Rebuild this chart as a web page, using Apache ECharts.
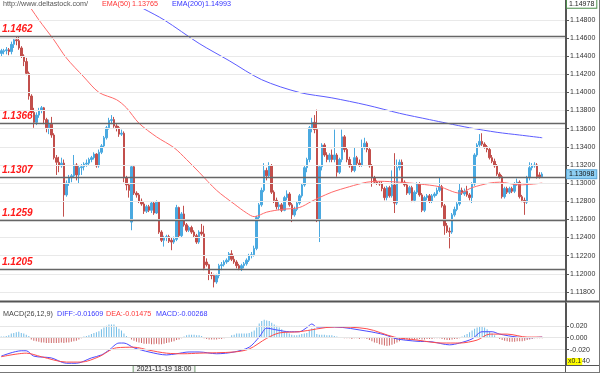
<!DOCTYPE html>
<html><head><meta charset="utf-8">
<script src="https://cdn.jsdelivr.net/npm/echarts@6/dist/echarts.min.js"></script>
<style>html,body{margin:0;padding:0;background:#fff}#c{width:600px;height:373px}</style>
</head><body><div id="c"></div><script>
const opens = [
1.1443,1.1445,1.1446,1.1447,1.1445,1.1453,1.1458,1.1457,1.1449,1.1440,
1.1434,1.1421,1.1396,1.1378,1.1367,1.1375,1.1380,1.1383,1.1370,1.1361,
1.1365,1.1353,1.1328,1.1323,1.1319,1.1322,1.1287,1.1300,1.1306,1.1308,
1.1320,1.1309,1.1317,1.1318,1.1321,1.1322,1.1326,1.1328,1.1332,1.1319,
1.1334,1.1341,1.1350,1.1361,1.1369,1.1370,1.1363,1.1361,1.1354,1.1355,
1.1306,1.1298,1.1257,1.1318,1.1289,1.1287,1.1280,1.1277,1.1269,1.1274,
1.1270,1.1278,1.1267,1.1279,1.1246,1.1237,1.1240,1.1241,1.1237,1.1235,
1.1238,1.1273,1.1242,1.1266,1.1254,1.1248,1.1251,1.1246,1.1242,1.1235,
1.1246,1.1244,1.1213,1.1210,1.1199,1.1198,1.1191,1.1198,1.1209,1.1210,
1.1213,1.1215,1.1222,1.1216,1.1213,1.1209,1.1206,1.1209,1.1211,1.1215,
1.1220,1.1221,1.1228,1.1262,1.1276,1.1292,1.1314,1.1308,1.1319,1.1290,
1.1281,1.1274,1.1276,1.1270,1.1284,1.1288,1.1276,1.1265,1.1271,1.1278,
1.1286,1.1298,1.1317,1.1326,1.1361,1.1367,1.1359,1.1259,1.1318,1.1342,
1.1331,1.1326,1.1331,1.1326,1.1331,1.1312,1.1326,1.1351,1.1337,1.1326,
1.1319,1.1314,1.1328,1.1322,1.1320,1.1339,1.1344,1.1337,1.1319,1.1306,
1.1301,1.1300,1.1299,1.1294,1.1284,1.1295,1.1286,1.1298,1.1278,1.1317,
1.1323,1.1301,1.1298,1.1289,1.1295,1.1281,1.1290,1.1299,1.1287,1.1270,
1.1284,1.1286,1.1280,1.1286,1.1288,1.1292,1.1296,1.1275,1.1253,1.1247,
1.1246,1.1265,1.1271,1.1277,1.1292,1.1288,1.1291,1.1287,1.1284,1.1299,
1.1331,1.1342,1.1346,1.1343,1.1340,1.1337,1.1328,1.1324,1.1319,1.1310,
1.1307,1.1285,1.1294,1.1290,1.1294,1.1291,1.1299,1.1301,1.1285,1.1281,
1.1279,1.1306,1.1317,1.1319,1.1320,1.1309,1.1307];
const closes = [
1.1446,1.1446,1.1447,1.1445,1.1453,1.1458,1.1457,1.1449,1.1440,1.1434,
1.1421,1.1396,1.1378,1.1367,1.1375,1.1380,1.1383,1.1370,1.1361,1.1365,
1.1353,1.1328,1.1323,1.1319,1.1322,1.1287,1.1300,1.1306,1.1308,1.1320,
1.1309,1.1317,1.1318,1.1321,1.1322,1.1326,1.1328,1.1332,1.1319,1.1334,
1.1341,1.1350,1.1361,1.1369,1.1370,1.1363,1.1361,1.1354,1.1355,1.1306,
1.1298,1.1292,1.1318,1.1289,1.1287,1.1280,1.1277,1.1269,1.1274,1.1270,
1.1278,1.1267,1.1279,1.1246,1.1237,1.1240,1.1241,1.1236,1.1235,1.1238,
1.1273,1.1242,1.1266,1.1254,1.1248,1.1251,1.1246,1.1242,1.1235,1.1246,
1.1244,1.1206,1.1210,1.1199,1.1198,1.1191,1.1198,1.1209,1.1210,1.1213,
1.1215,1.1222,1.1216,1.1213,1.1209,1.1206,1.1209,1.1211,1.1215,1.1220,
1.1221,1.1228,1.1262,1.1276,1.1292,1.1314,1.1308,1.1319,1.1290,1.1281,
1.1274,1.1276,1.1270,1.1284,1.1288,1.1276,1.1265,1.1271,1.1278,1.1286,
1.1298,1.1317,1.1326,1.1361,1.1367,1.1359,1.1259,1.1318,1.1342,1.1331,
1.1326,1.1331,1.1326,1.1331,1.1312,1.1326,1.1351,1.1337,1.1326,1.1319,
1.1314,1.1328,1.1322,1.1320,1.1339,1.1344,1.1337,1.1319,1.1306,1.1301,
1.1300,1.1299,1.1294,1.1284,1.1295,1.1286,1.1298,1.1278,1.1317,1.1323,
1.1301,1.1298,1.1289,1.1295,1.1281,1.1290,1.1299,1.1287,1.1270,1.1284,
1.1286,1.1280,1.1286,1.1288,1.1292,1.1296,1.1275,1.1253,1.1247,1.1246,
1.1265,1.1271,1.1277,1.1292,1.1289,1.1291,1.1287,1.1284,1.1299,1.1331,
1.1342,1.1346,1.1343,1.1340,1.1337,1.1328,1.1324,1.1319,1.1310,1.1307,
1.1285,1.1294,1.1290,1.1294,1.1291,1.1299,1.1301,1.1285,1.1281,1.1279,
1.1306,1.1317,1.1319,1.1320,1.1307,1.1307,1.1310];
const lows = [
1.1440,1.1442,1.1442,1.1441,1.1442,1.1449,1.1452,1.1447,1.1438,1.1429,
1.1419,1.1392,1.1376,1.1361,1.1364,1.1372,1.1377,1.1365,1.1356,1.1354,
1.1350,1.1326,1.1309,1.1312,1.1317,1.1263,1.1285,1.1297,1.1301,1.1306,
1.1303,1.1300,1.1309,1.1314,1.1318,1.1320,1.1323,1.1326,1.1317,1.1317,
1.1332,1.1339,1.1348,1.1359,1.1365,1.1361,1.1357,1.1351,1.1352,1.1301,
1.1292,1.1284,1.1248,1.1287,1.1284,1.1278,1.1275,1.1266,1.1267,1.1268,
1.1267,1.1265,1.1266,1.1244,1.1235,1.1230,1.1236,1.1234,1.1226,1.1233,
1.1236,1.1240,1.1240,1.1252,1.1246,1.1246,1.1244,1.1240,1.1233,1.1233,
1.1242,1.1204,1.1208,1.1193,1.1194,1.1185,1.1189,1.1195,1.1204,1.1208,
1.1211,1.1213,1.1214,1.1211,1.1206,1.1204,1.1203,1.1206,1.1209,1.1213,
1.1217,1.1219,1.1226,1.1259,1.1274,1.1290,1.1303,1.1306,1.1288,1.1278,
1.1271,1.1270,1.1268,1.1269,1.1281,1.1274,1.1257,1.1263,1.1269,1.1276,
1.1284,1.1296,1.1312,1.1323,1.1356,1.1355,1.1257,1.1235,1.1314,1.1329,
1.1323,1.1323,1.1323,1.1323,1.1307,1.1310,1.1323,1.1334,1.1323,1.1317,
1.1312,1.1312,1.1320,1.1318,1.1318,1.1337,1.1334,1.1317,1.1296,1.1299,
1.1298,1.1297,1.1291,1.1281,1.1281,1.1284,1.1284,1.1267,1.1276,1.1314,
1.1299,1.1296,1.1287,1.1287,1.1279,1.1279,1.1288,1.1285,1.1268,1.1268,
1.1281,1.1278,1.1278,1.1284,1.1286,1.1290,1.1273,1.1243,1.1245,1.1228,
1.1244,1.1263,1.1269,1.1275,1.1287,1.1286,1.1285,1.1281,1.1278,1.1297,
1.1329,1.1340,1.1341,1.1338,1.1334,1.1326,1.1322,1.1317,1.1308,1.1305,
1.1283,1.1283,1.1288,1.1288,1.1289,1.1289,1.1297,1.1283,1.1279,1.1265,
1.1277,1.1303,1.1314,1.1317,1.1305,1.1305,1.1306];
const highs = [
1.1448,1.1448,1.1450,1.1449,1.1456,1.1460,1.1461,1.1462,1.1451,1.1442,
1.1438,1.1423,1.1398,1.1383,1.1378,1.1383,1.1385,1.1384,1.1372,1.1370,
1.1373,1.1355,1.1331,1.1329,1.1328,1.1326,1.1303,1.1309,1.1310,1.1331,
1.1322,1.1320,1.1321,1.1323,1.1326,1.1328,1.1330,1.1334,1.1333,1.1337,
1.1343,1.1352,1.1363,1.1372,1.1375,1.1373,1.1365,1.1363,1.1359,1.1357,
1.1308,1.1300,1.1320,1.1320,1.1291,1.1289,1.1283,1.1279,1.1276,1.1276,
1.1280,1.1280,1.1281,1.1280,1.1248,1.1242,1.1243,1.1243,1.1240,1.1241,
1.1276,1.1274,1.1268,1.1275,1.1256,1.1253,1.1253,1.1248,1.1244,1.1248,
1.1255,1.1253,1.1217,1.1211,1.1202,1.1200,1.1200,1.1211,1.1213,1.1215,
1.1217,1.1224,1.1226,1.1220,1.1215,1.1211,1.1211,1.1213,1.1217,1.1222,
1.1224,1.1231,1.1264,1.1278,1.1295,1.1322,1.1317,1.1323,1.1321,1.1292,
1.1284,1.1279,1.1278,1.1286,1.1292,1.1290,1.1278,1.1274,1.1280,1.1288,
1.1300,1.1319,1.1328,1.1363,1.1372,1.1375,1.1381,1.1320,1.1344,1.1344,
1.1334,1.1333,1.1337,1.1359,1.1333,1.1328,1.1359,1.1353,1.1339,1.1329,
1.1321,1.1339,1.1330,1.1326,1.1348,1.1350,1.1346,1.1339,1.1321,1.1308,
1.1303,1.1302,1.1302,1.1296,1.1297,1.1297,1.1314,1.1333,1.1326,1.1326,
1.1326,1.1303,1.1300,1.1297,1.1297,1.1292,1.1301,1.1301,1.1289,1.1286,
1.1288,1.1288,1.1288,1.1290,1.1295,1.1306,1.1298,1.1277,1.1256,1.1251,
1.1267,1.1274,1.1279,1.1300,1.1295,1.1294,1.1297,1.1289,1.1301,1.1333,
1.1344,1.1354,1.1355,1.1345,1.1342,1.1339,1.1331,1.1327,1.1321,1.1312,
1.1309,1.1296,1.1296,1.1296,1.1296,1.1301,1.1305,1.1303,1.1287,1.1284,
1.1308,1.1323,1.1322,1.1323,1.1322,1.1312,1.1312];

// EMA readings [candle index, price]
const ema50 = [[9,1.1502],[12,1.1492],[15,1.1480],[21,1.1458],[26,1.1438],[33,1.1417],[39,1.1400],[46,1.1392],[50,1.1383],[55,1.1366],[62,1.1351],[69,1.1339],[74,1.1326],[79,1.1312],[86,1.1292],[93,1.1277],[98,1.1267],[101,1.1263],[106,1.1268],[112,1.1271],[119,1.1273],[124,1.1280],[127,1.1284],[132,1.1290],[139,1.1296],[146,1.1301],[151,1.1302],[159,1.1301],[167,1.1299],[175,1.1296],[183,1.1289],[188,1.1295],[195,1.1300],[199,1.1301],[207,1.1298],[216,1.1300]];
const ema200 = [[50,1.1502],[57,1.1492],[65,1.1480],[79,1.1454],[91,1.1435],[104,1.1414],[119,1.1400],[132,1.1394],[146,1.1386],[159,1.1377],[171,1.1370],[178,1.1366],[187,1.1361],[198,1.1356],[207,1.1353],[216,1.1350]];

const macdHist = [
0.002,0.002,0.003,0.004,0.007,0.008,0.009,0.010,0.008,0.007,
0.005,0.003,-0.003,-0.005,-0.006,-0.007,-0.008,-0.008,-0.009,-0.009,
-0.009,-0.009,-0.009,-0.009,-0.008,-0.009,-0.008,-0.008,-0.007,-0.006,
-0.005,-0.003,-0.001,0.002,0.003,0.004,0.006,0.008,0.009,0.011,
0.014,0.017,0.020,0.022,0.022,0.022,0.018,0.015,0.012,0.007,
0.003,0.001,-0.003,-0.005,-0.007,-0.008,-0.009,-0.010,-0.010,-0.010,
-0.011,-0.011,-0.010,-0.011,-0.011,-0.010,-0.009,-0.008,-0.007,-0.006,
-0.004,-0.003,-0.001,0.002,0.004,0.005,0.005,0.005,0.004,0.004,
0.003,-0.001,-0.002,-0.003,-0.003,-0.003,-0.003,-0.002,-0.002,-0.001,
0.001,0.001,0.004,0.005,0.007,0.007,0.007,0.007,0.007,0.008,
0.010,0.012,0.017,0.024,0.028,0.030,0.029,0.028,0.025,0.022,
0.020,0.017,0.014,0.011,0.009,0.007,0.005,0.004,0.004,0.005,
0.006,0.007,0.008,0.012,0.016,0.016,0.006,0.005,0.005,0.005,
0.004,0.004,0.004,0.003,0.002,0.001,0.001,-0.001,-0.001,-0.001,
-0.002,-0.001,-0.001,-0.002,-0.001,-0.001,-0.002,-0.004,-0.006,-0.008,
-0.009,-0.011,-0.012,-0.013,-0.014,-0.013,-0.012,-0.010,-0.008,-0.006,
-0.004,-0.003,-0.003,-0.004,-0.003,-0.003,-0.003,-0.002,-0.003,-0.003,
-0.002,-0.002,-0.002,-0.001,-0.001,-0.001,-0.002,-0.003,-0.004,-0.004,
-0.003,-0.002,-0.002,-0.001,0.002,0.004,0.006,0.009,0.012,0.015,
0.017,0.018,0.018,0.017,0.014,0.011,0.007,0.004,0.001,-0.002,
-0.004,-0.005,-0.006,-0.007,-0.007,-0.007,-0.006,-0.006,-0.006,-0.005,
-0.004,-0.003,-0.002,-0.001,-0.001,-0.001,-0.001];
const macdDiff = [[0,-0.031],[8,-0.022],[10,-0.022],[13,-0.031],[20,-0.034],[26,-0.043],[30,-0.043],[36,-0.034],[40,-0.029],[43,-0.021],[47,-0.009],[49,-0.009],[53,-0.017],[59,-0.024],[66,-0.029],[70,-0.027],[75,-0.024],[79,-0.024],[86,-0.027],[93,-0.024],[99,-0.016],[103,0.001],[106,0.016],[110,0.013],[115,0.010],[119,0.010],[122,0.017],[124,0.023],[126,0.018],[133,0.018],[146,0.011],[153,0.005],[158,-0.002],[166,-0.006],[172,-0.007],[179,-0.012],[183,-0.009],[188,-0.002],[192,0.010],[196,0.010],[199,0.006],[206,0.001],[211,0.000],[216,0.001]];
const macdDea = [[0,-0.032],[10,-0.026],[16,-0.032],[26,-0.041],[32,-0.041],[39,-0.032],[46,-0.017],[53,-0.016],[59,-0.021],[66,-0.026],[73,-0.027],[79,-0.026],[93,-0.024],[99,-0.019],[106,-0.001],[111,0.008],[119,0.010],[133,0.018],[146,0.015],[157,0.001],[166,-0.004],[176,-0.009],[183,-0.009],[190,-0.004],[195,0.006],[202,0.006],[210,0.001],[216,0.001]];

const priceTicks = [1.118,1.120,1.122,1.124,1.126,1.128,1.130,1.132,1.134,1.136,1.138,1.140,1.142,1.144,1.146,1.148];
const macdTicks = [0.02, 0, -0.02, -0.04];
const macdGrid = [0.02, 0, -0.02];
const levels = [1.1462, 1.1366, 1.1307, 1.1259, 1.1205];
const lastPrice = 1.13098;
const topPrice = 1.14978;
const slotCount = 226;
const categories = Array.from({length: slotCount}, (_, i) => String(i));
const cursorIndex = 65;
const cursorTime = '2021-11-19 18:00';

const candleData = opens.map((o, i) => [o, closes[i], lows[i], highs[i]]);
const FONT = 'Liberation Sans';
const UP = '#4aa9e0', DOWN = '#c24f4c';
const CLEAR = 'rgba(0,0,0,0)';

const chart = echarts.init(document.getElementById('c'), null, {renderer: 'canvas'});
chart.setOption({
  animation: false,
  backgroundColor: '#fff',
  textStyle: {fontFamily: FONT},
  grid: [
    {left: 0, top: 0, width: 566, height: 301},
    {left: 0, top: 303, width: 566, height: 62}
  ],
  xAxis: [
    {type: 'category', gridIndex: 0, data: categories, boundaryGap: true, show: false},
    {type: 'category', gridIndex: 1, data: categories, boundaryGap: true, show: false}
  ],
  yAxis: [
    {type: 'value', gridIndex: 0, position: 'right', min: 1.11700, max: 1.15019,
     axisLine: {show: true, lineStyle: {color: '#555'}},
     axisTick: {show: true, length: 3, lineStyle: {color: '#555'}, customValues: priceTicks},
     axisLabel: {show: true, customValues: priceTicks, formatter: v => v.toFixed(5), fontSize: 7, color: '#333', margin: 4, fontFamily: FONT},
     splitLine: {show: false}},
    {type: 'value', gridIndex: 1, position: 'right', min: -0.0459, max: 0.0583,
     axisLine: {show: true, lineStyle: {color: '#555'}},
     axisTick: {show: true, length: 3, lineStyle: {color: '#555'}, customValues: macdTicks},
     axisLabel: {show: true, customValues: macdTicks, formatter: v => v.toFixed(3), fontSize: 7, color: '#333', margin: 4, fontFamily: FONT},
     splitLine: {show: false}}
  ],
  series: [
    {name: 'grid', type: 'line', xAxisIndex: 0, yAxisIndex: 0, data: [], z: 1, silent: true,
     markLine: {silent: true, precision: 5, symbol: ['none', 'none'], label: {show: false},
       lineStyle: {color: '#e9e9e9', width: 1, type: 'solid'},
       data: priceTicks.map(v => ({yAxis: v}))}},
    {name: 'price', type: 'candlestick', xAxisIndex: 0, yAxisIndex: 0, data: candleData, barWidth: 2,
     itemStyle: {color: UP, color0: DOWN, borderColor: UP, borderColor0: DOWN, borderWidth: 1},
     markLine: {silent: true, precision: 5, symbol: ['none', 'none'],
       lineStyle: {color: '#666', width: 1.4, type: 'solid'},
       label: {show: true, position: 'insideStartTop', formatter: p => p.value.toFixed(4),
         color: '#ff1a1a', fontStyle: 'italic', fontWeight: 'bold', fontSize: 10, fontFamily: FONT, distance: [2, 2]},
       data: levels.map(v => ({yAxis: v})).concat([
         {yAxis: lastPrice, lineStyle: {color: CLEAR},
          label: {position: 'end', formatter: lastPrice.toFixed(5), color: '#111', fontStyle: 'normal', fontWeight: 'normal',
                  fontSize: 7, backgroundColor: '#8ecff3', borderColor: '#5aa6d6', borderWidth: 1, padding: [1, 2, 0, 2], distance: 1}},
         {yAxis: topPrice, lineStyle: {color: CLEAR},
          label: {position: 'end', formatter: topPrice.toFixed(5), color: '#222', fontStyle: 'normal', fontWeight: 'normal',
                  fontSize: 7, backgroundColor: '#fff', borderColor: '#4e8f4e', borderWidth: 1, padding: [1, 2, 0, 2], distance: 1}}
       ])}},
    {name: 'EMA(50)', type: 'line', xAxisIndex: 0, yAxisIndex: 0, data: ema50, smooth: 0.3, symbol: 'none',
     lineStyle: {color: '#ff6a6a', width: 1}, z: 3},
    {name: 'EMA(200)', type: 'line', xAxisIndex: 0, yAxisIndex: 0, data: ema200, smooth: 0.3, symbol: 'none',
     lineStyle: {color: '#5c5cff', width: 1}, z: 3},
    {name: 'macdgrid', type: 'line', xAxisIndex: 1, yAxisIndex: 1, data: [], z: 1, silent: true,
     markLine: {silent: true, precision: 5, symbol: ['none', 'none'], label: {show: false},
       lineStyle: {color: '#e6e6e6', width: 1, type: 'solid'},
       data: macdGrid.map(v => ({yAxis: v}))}},
    {name: 'MACD', type: 'bar', xAxisIndex: 1, yAxisIndex: 1, data: macdHist, barWidth: 1,
     itemStyle: {color: p => p.value >= 0 ? '#72bce6' : '#cf6b6b'},
     markLine: {silent: true, precision: 5, symbol: ['none', 'none'], lineStyle: {color: CLEAR},
       data: [
         {xAxis: categories[cursorIndex],
          label: {show: true, position: 'start', formatter: cursorTime, fontSize: 7, color: '#222',
                  backgroundColor: '#f2f2f2', borderColor: '#6f9a6f', borderWidth: 1, padding: [0, 3], distance: 1}},
         {yAxis: -0.04,
          label: {show: true, position: 'end', formatter: 'x0.1', fontSize: 7, color: '#222',
                  backgroundColor: '#ffff00', padding: [0, 1], distance: 1}}
       ]}},
    {name: 'DIFF', type: 'line', xAxisIndex: 1, yAxisIndex: 1, data: macdDiff, smooth: 0.3, symbol: 'none',
     lineStyle: {color: '#4b4bff', width: 1}, z: 3},
    {name: 'DEA', type: 'line', xAxisIndex: 1, yAxisIndex: 1, data: macdDea, smooth: 0.3, symbol: 'none',
     lineStyle: {color: '#ff4b4b', width: 1}, z: 3}
  ],
  graphic: [
    {type: 'rect', left: 0, top: 0, shape: {width: 230, height: 9}, style: {fill: '#fff'}, z: 100, silent: true},
    {type: 'text', left: 3, top: 1, z: 101, style: {text: 'http://www.deltastock.com/', fill: '#555', font: '7.2px "Liberation Sans"'}},
    {type: 'text', left: 102, top: 1, z: 101, style: {text: 'EMA(50)', fill: '#ff3333', font: '7.2px "Liberation Sans"'}},
    {type: 'text', left: 132, top: 1, z: 101, style: {text: '1.13765', fill: '#ff3333', font: '7.2px "Liberation Sans"'}},
    {type: 'text', left: 172, top: 1, z: 101, style: {text: 'EMA(200)', fill: '#3333ff', font: '7.2px "Liberation Sans"'}},
    {type: 'text', left: 205, top: 1, z: 101, style: {text: '1.14993', fill: '#3333ff', font: '7.2px "Liberation Sans"'}},
    {type: 'text', left: 3, top: 311, z: 101, style: {text: 'MACD(26,12,9)', fill: '#444', font: '7.2px "Liberation Sans"'}},
    {type: 'text', left: 57, top: 311, z: 101, style: {text: 'DIFF:-0.01609', fill: '#3838ff', font: '7.2px "Liberation Sans"'}},
    {type: 'text', left: 106, top: 311, z: 101, style: {text: 'DEA:-0.01475', fill: '#ff3838', font: '7.2px "Liberation Sans"'}},
    {type: 'text', left: 156, top: 311, z: 101, style: {text: 'MACD:-0.00268', fill: '#3838ff', font: '7.2px "Liberation Sans"'}},
    {type: 'line', z: 90, silent: true, shape: {x1: 0, y1: 301.5, x2: 600, y2: 301.5}, style: {stroke: '#555', lineWidth: 2}},
    {type: 'line', z: 90, silent: true, shape: {x1: 0, y1: 365.5, x2: 600, y2: 365.5}, style: {stroke: '#555', lineWidth: 1}},
    {type: 'line', z: 90, silent: true, shape: {x1: 565.5, y1: 0, x2: 565.5, y2: 373}, style: {stroke: '#555', lineWidth: 1}},
    {type: 'line', z: 90, silent: true, shape: {x1: 599.5, y1: 0, x2: 599.5, y2: 373}, style: {stroke: '#777', lineWidth: 1}},
    {type: 'line', z: 90, silent: true, shape: {x1: 0, y1: 372.5, x2: 600, y2: 372.5}, style: {stroke: '#777', lineWidth: 1}}
  ]
});
</script></body></html>
